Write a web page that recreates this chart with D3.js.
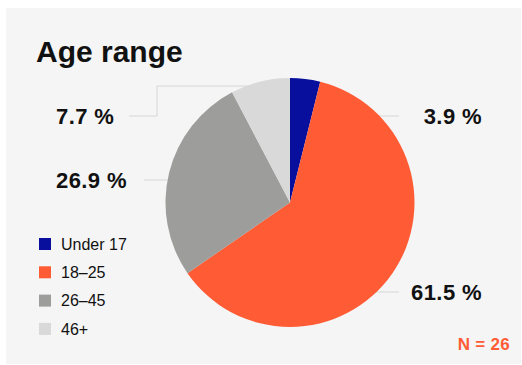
<!DOCTYPE html>
<html>
<head>
<meta charset="utf-8">
<script src="https://cdn.jsdelivr.net/npm/d3@7"></script>
<style>
  html, body { margin: 0; padding: 0; background: #ffffff; }
  svg { display: block; font-family: "Liberation Sans", Arial, sans-serif; }
</style>
</head>
<body>
<svg id="chart" width="522" height="365"></svg>
<script>
// Age distribution of respondents (N = 26)
const categories = ["Under 17", "18–25", "26–45", "46+"];
const shares = [3.9, 61.5, 26.9, 7.7];
const valueLabels = ["3.9 %", "61.5 %", "26.9 %", "7.7 %"];
const sampleSize = 26;

const colors = ["#070f9c", "#ff5c35", "#9d9d9b", "#d9d9d9"];

const svg = d3.select("#chart");

// card background
svg.append("rect")
  .attr("x", 6).attr("y", 8)
  .attr("width", 515).attr("height", 356)
  .attr("fill", "#f5f5f5");

svg.append("text")
  .attr("x", 36).attr("y", 62)
  .attr("font-size", 30).attr("font-weight", 700)
  .attr("fill", "#111")
  .text("Age range");

const cx = 290, cy = 202.5, r = 124.5;

const pie = d3.pie().sort(null).value(d => d.value);
const arcs = pie(categories.map((c, i) => ({ cat: c, value: shares[i], label: valueLabels[i], color: colors[i] })));
const arc = d3.arc().innerRadius(0).outerRadius(r);

// label placement: side, label row, line end, optional elbow
const placement = {
  "Under 17": { side: "right", y: 116, lineEnd: 399 },
  "18–25":    { side: "right", y: 292, lineEnd: 399 },
  "26–45":    { side: "left",  y: 180, lineEnd: 144 },
  "46+":      { side: "left",  y: 116, lineEnd: 129, elbowX: 157, elbowY: 86 }
};

// leader lines drawn first so the pie covers their inner part
const lines = svg.append("g");
arcs.forEach(a => {
  const p = placement[a.data.cat];
  const d = p.elbowX !== undefined
    ? `M${cx},${p.elbowY}H${p.elbowX}V${p.y}H${p.lineEnd}`
    : `M${cx},${p.y}H${p.lineEnd}`;
  lines.append("path")
    .attr("d", d)
    .attr("fill", "none")
    .attr("stroke", "#d6d6d6")
    .attr("stroke-width", 1);
});

const g = svg.append("g").attr("transform", `translate(${cx},${cy})`);
g.selectAll("path.slice")
  .data(arcs)
  .join("path")
  .attr("class", "slice")
  .attr("d", arc)
  .attr("fill", d => d.data.color);

// value labels
arcs.forEach(a => {
  const p = placement[a.data.cat];
  svg.append("text")
    .attr("x", p.side === "right" ? 482 : 56)
    .attr("y", p.y)
    .attr("dy", "0.36em")
    .attr("text-anchor", p.side === "right" ? "end" : "start")
    .attr("font-size", 22)
    .attr("font-weight", 700)
    .attr("letter-spacing", 0.4)
    .attr("fill", "#111")
    .text(a.data.label);
});

// legend
const legend = svg.append("g").attr("transform", "translate(39,238)");
const rows = legend.selectAll("g")
  .data(categories)
  .join("g")
  .attr("transform", (d, i) => `translate(0,${i * 28.3})`);
rows.append("rect")
  .attr("width", 12).attr("height", 12)
  .attr("fill", (d, i) => colors[i]);
rows.append("text")
  .attr("x", 22).attr("y", 6)
  .attr("dy", "0.36em")
  .attr("font-size", 16)
  .attr("fill", "#111")
  .text(d => d);

svg.append("text")
  .attr("x", 510).attr("y", 350)
  .attr("text-anchor", "end")
  .attr("font-size", 17)
  .attr("font-weight", 700)
  .attr("letter-spacing", 0.3)
  .attr("fill", "#ff5c35")
  .text(`N = ${sampleSize}`);
</script>
</body>
</html>
